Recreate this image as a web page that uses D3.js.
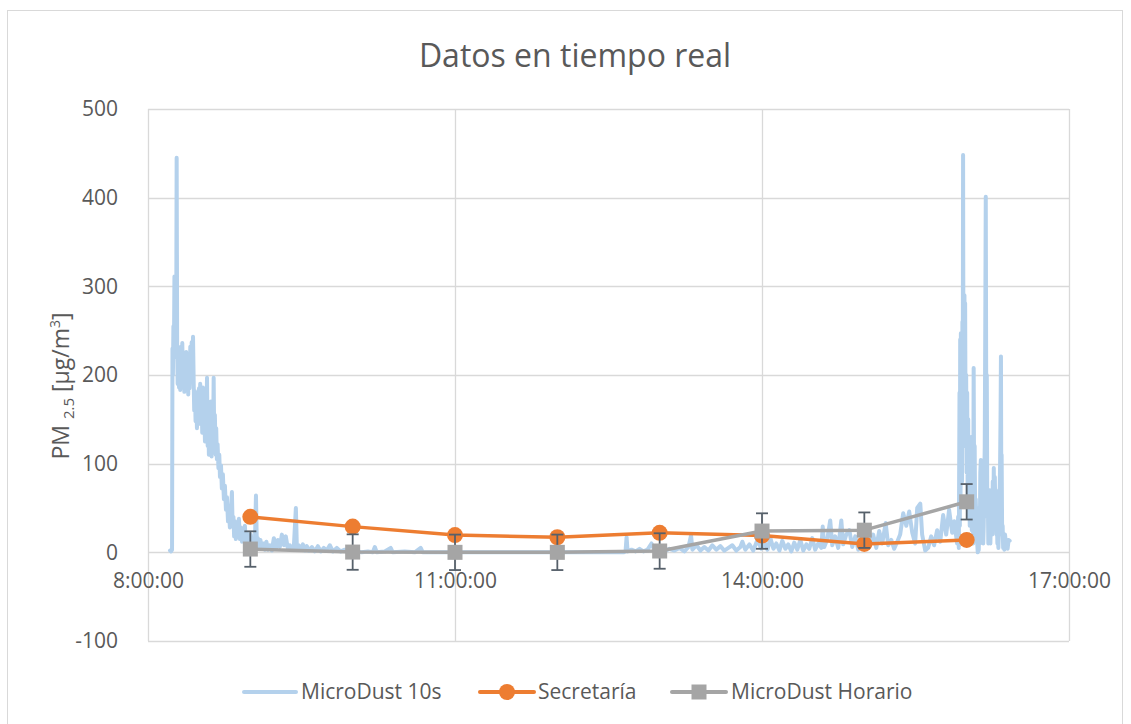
<!DOCTYPE html>
<html><head><meta charset="utf-8">
<script src="https://cdn.jsdelivr.net/npm/d3@7"></script>
<style>
body{margin:0;background:#fff;}
svg{display:block;font-family:"Open Sans",sans-serif;}
</style></head><body>
<svg id="c" width="1131" height="724"></svg>
<script>
// ---- data ----
const titleText = "Datos en tiempo real";
const xTickLabels = ["8:00:00", "11:00:00", "14:00:00", "17:00:00"];
const yTickValues = [-100, 0, 100, 200, 300, 400, 500];
const hourLabels = ["9:00:00", "10:00:00", "11:00:00", "12:00:00", "13:00:00", "14:00:00", "15:00:00", "16:00:00"];
const secretaria = [40, 29, 19.5, 17, 22, 19, 9.5, 14];
const horario = [3.7, 0.3, 0, 0, 1.5, 24, 25, 57];
const horarioErr = [20, 20, 20, 20, 20, 20, 20, 20];
// MicroDust 10s: [minutes after 8:00:00, PM2.5] pairs
const dustSeries = [
[12.9,2],[13.5,1],[14.1,3],[14.35,230],[14.6,200],[14.9,255],[15.2,225],[15.5,311],[15.8,230],[16.1,300],[16.5,220],[16.8,445],
[17.1,230],[17.4,190],[17.7,225],[18.2,186],[18.6,220],[18.9,183],[19.3,232],[19.7,188],[20.1,236],[20.5,192],[20.9,218],[21.3,181],
[21.7,215],[22.1,186],[22.4,226],[22.8,183],[23.3,205],[23.6,178],[24.0,220],[24.4,185],[24.8,232],[25.2,195],[25.6,237],[25.9,200],
[26.4,243],[26.8,190],[27.1,160],[27.5,182],[27.9,148],[28.3,178],[28.7,140],[29.1,172],[29.5,150],[29.9,185],[30.3,145],[30.6,190],
[31.0,150],[31.5,175],[31.8,135],[32.2,186],[32.6,142],[33.0,160],[33.4,125],[33.8,180],[34.1,140],[34.6,197],[35.0,120],[35.3,165],
[35.7,110],[36.1,150],[36.5,125],[36.9,170],[37.3,108],[37.7,145],[38.1,115],[38.5,197],[38.8,130],[39.2,155],[39.7,110],[40.0,140],
[40.4,105],[40.8,122],[41.3,95],[41.8,110],[42.2,85],[42.8,98],[43.3,72],[43.9,88],[44.5,60],[45.1,75],[45.7,48],[46.3,62],
[46.9,35],[47.4,50],[48.0,28],[48.6,45],[49.2,68],[49.6,30],[50.1,40],[50.5,18],[51.0,35],[51.5,15],[52.1,30],[52.7,20],
[53.3,38],[53.9,15],[54.5,28],[55.1,12],[55.6,25],[56.2,14],[56.8,30],[57.4,10],[58.0,22],[58.6,8],[59.2,18],[59.7,10],
[60.3,20],[60.9,6],[61.5,14],[62.1,8],[62.7,12],[63.3,64],[63.8,10],[64.4,16],[65.0,5],[65.9,14],[66.8,4],[67.7,10],
[68.5,3],[69.4,12],[70.3,3],[71.5,8],[72.6,2],[73.8,16],[75.0,4],[76.1,14],[77.3,6],[78.5,20],[79.7,8],[80.8,18],
[82.0,4],[83.2,8],[84.3,3],[85.5,6],[86.7,50],[87.3,4],[88.4,8],[89.6,3],[90.8,9],[92.0,2],[93.1,7],[94.3,2],
[96.1,6],[97.8,1],[99.6,7],[101.3,1],[103.1,5],[104.8,2],[106.6,8],[108.4,1],[110.7,5],[113.0,1],[115.4,3],[118.3,0],
[121.8,2],[125.3,0],[128.9,1],[131.8,0],[133.0,6],[134.1,0],[138.8,1],[142.3,5],[143.5,0],[150.5,1],[156.4,0],[159.9,5],
[161.1,0],[171.0,0],[182.7,0],[194.5,0],[206.2,0],[217.9,0],[229.6,0],[241.3,0],[253.0,0],[264.7,0],[276.5,0],[278.8,0],
[280.0,1],[280.6,17],[281.2,1],[283.5,3],[285.9,1],[288.2,4],[290.5,1],[292.9,3],[295.2,10],[297.0,2],[299.9,5],[302.8,1],
[305.7,4],[308.7,2],[311.6,5],[314.5,1],[316.9,6],[318.4,19],[319.2,3],[321.6,8],[323.9,2],[326.2,6],[328.6,2],[330.9,8],
[333.2,3],[335.6,7],[337.9,2],[340.3,5],[342.6,8],[344.9,2],[347.3,6],[348.5,12],[350.2,3],[352.6,9],[354.9,2],[357.3,14],
[359.6,4],[361.4,12],[363.2,3],[364.9,16],[366.7,4],[368.4,10],[370.2,2],[371.9,13],[373.7,4],[375.4,9],[377.2,1],[378.9,11],
[380.7,3],[382.5,14],[384.2,2],[386.0,9],[387.7,4],[389.5,16],[391.2,3],[393.0,10],[394.8,5],[395.6,29],[396.5,6],[398.3,15],
[400.0,36],[401.2,8],[402.9,18],[404.7,5],[406.5,36],[407.6,9],[409.4,20],[411.2,25],[412.9,6],[414.7,18],[416.4,3],[418.2,15],
[419.9,6],[421.7,22],[423.4,8],[425.2,20],[427.0,5],[428.7,24],[430.5,10],[432.5,33],[434.0,8],[435.8,14],[437.5,4],[439.3,12],
[441.0,20],[442.8,44],[444.6,30],[446.3,46],[448.1,22],[449.8,10],[451.0,50],[452.8,55],[453.9,20],[455.7,2],[457.4,5],[459.2,18],
[460.9,8],[462.7,25],[464.5,12],[466.2,42],[468.0,20],[469.7,48],[471.5,22],[472.7,35],[474.4,10],
[475.0,40],[475.4,5],[475.8,180],[476.0,30],[476.2,240],[476.4,60],[476.6,247],[476.8,100],[477.1,230],[477.3,80],[477.5,260],
[477.7,150],[477.9,448],[478.1,200],[478.3,260],[478.5,120],[478.7,290],[478.9,160],[479.1,281],[479.4,120],[479.7,200],[480.0,90],
[480.3,180],[480.6,60],[480.9,150],[481.2,40],[481.5,120],[481.8,30],[482.1,90],[482.4,40],[482.7,130],[483.0,25],[483.5,100],
[483.8,10],[484.1,208],[484.4,60],[484.7,120],[485.0,30],[485.3,60],[485.9,20],[486.5,0],
[487.1,3],[487.4,50],[487.7,10],[488.0,90],[488.3,104],[488.6,30],[488.8,100],[489.1,20],[489.4,60],[489.7,10],[490.0,30],
[490.3,80],[490.6,120],[490.9,250],[491.2,401],[491.5,150],[491.8,200],[492.1,40],[492.4,60],[492.7,10],[493.0,20],[493.3,70],
[493.6,51],[493.9,10],[494.1,30],[494.5,70],[495.0,20],[495.3,80],[495.6,40],[495.9,95],[496.2,30],[496.5,85],[496.8,50],
[497.1,70],[497.4,20],[497.7,40],[498.0,10],[498.3,20],[498.6,5],[499.0,30],[499.3,60],[499.6,100],[499.9,160],[500.1,221],
[500.3,80],[500.5,110],[500.8,20],[501.1,30],[501.4,5],[501.7,15],[502.1,3],[502.5,20],[503.1,8],[503.5,14],[504.0,4],
[504.6,14],[505.2,13]
];
const legendLabels = ["MicroDust 10s", "Secretaría", "MicroDust Horario"];

// ---- setup ----
const svg = d3.select("#c");
const parseT = d3.timeParse("%H:%M:%S");
const base = parseT("8:00:00");
const W = {l: 148, r: 1069, t: 109, b: 641};
const x = d3.scaleTime().domain([parseT("8:00:00"), parseT("17:00:00")]).range([W.l, W.r]);
const y = d3.scaleLinear().domain([-100, 500]).range([W.b, W.t]);
const textCol = "#595959", gridCol = "#d9d9d9";
const FONT = '"Open Sans",sans-serif';

// chart border
svg.append("rect").attr("x", 7.5).attr("y", 10.5).attr("width", 1115).attr("height", 730)
  .attr("fill", "#fff").attr("stroke", gridCol).attr("stroke-width", 1);

// title
svg.append("text").attr("x", 575).attr("y", 67).attr("text-anchor", "middle")
  .attr("font-size", 32).attr("fill", textCol).text(titleText);

// gridlines
const g = svg.append("g");
g.selectAll(".hg").data(yTickValues).join("line")
  .attr("x1", W.l).attr("x2", W.r)
  .attr("y1", d => Math.round(y(d)) + 0.5).attr("y2", d => Math.round(y(d)) + 0.5)
  .attr("stroke", gridCol).attr("stroke-width", 1.3);
g.selectAll(".vg").data(xTickLabels.map(parseT)).join("line")
  .attr("x1", d => Math.round(x(d)) + 0.5).attr("x2", d => Math.round(x(d)) + 0.5)
  .attr("y1", W.t).attr("y2", W.b)
  .attr("stroke", gridCol).attr("stroke-width", 1.3);

// axes labels
const yAxis = d3.axisLeft(y).tickValues(yTickValues).tickSize(0).tickPadding(30).tickFormat(d => String(d));
const ya = svg.append("g").attr("transform", `translate(${W.l},0)`).call(yAxis);
ya.select(".domain").remove();
ya.selectAll("text").attr("font-size", 21).attr("fill", textCol).attr("font-family", FONT);

const xAxis = d3.axisBottom(x).tickValues(xTickLabels.map(parseT)).tickSize(0).tickPadding(21)
  .tickFormat(d3.timeFormat("%-H:%M:%S"));
const xa = svg.append("g").attr("transform", `translate(0,${y(0)})`).call(xAxis);
xa.select(".domain").remove();
xa.selectAll("text").attr("font-size", 21).attr("fill", textCol).attr("font-family", FONT);

// y title
const yt = svg.append("text").attr("transform", "translate(69,386) rotate(-90)")
  .attr("text-anchor", "middle").attr("font-size", 23).attr("fill", textCol);
yt.append("tspan").text("PM ");
yt.append("tspan").attr("font-size", 15).attr("dy", 5).text("2.5");
yt.append("tspan").attr("dy", -5).text(" [µg/m");
yt.append("tspan").attr("font-size", 14).attr("dy", -9).text("3");
yt.append("tspan").attr("dy", 9).text("]");

// MicroDust 10s
const dust = dustSeries.map(([m, v]) => ({t: new Date(base.getTime() + m * 60000), v}));
const line = d3.line().x(d => x(d.t)).y(d => y(d.v));
svg.append("path").datum(dust).attr("d", line).attr("fill", "none")
  .attr("stroke", "#b4d1ec").attr("stroke-width", 4).attr("stroke-linejoin", "round").attr("stroke-linecap", "round");

// Secretaría
const sec = hourLabels.map((h, i) => ({t: parseT(h), v: secretaria[i]}));
svg.append("path").datum(sec).attr("d", line).attr("fill", "none")
  .attr("stroke", "#ed7d31").attr("stroke-width", 3.5).attr("stroke-linejoin", "round");
svg.selectAll(".sm").data(sec).join("circle")
  .attr("cx", d => x(d.t)).attr("cy", d => y(d.v)).attr("r", 8).attr("fill", "#ed7d31");

// MicroDust Horario
const hor = hourLabels.map((h, i) => ({t: parseT(h), v: horario[i], e: horarioErr[i]}));
const eb = svg.append("g").attr("stroke", "#56606a").attr("stroke-width", 1.8);
hor.forEach(d => {
  const cx = x(d.t);
  eb.append("line").attr("x1", cx).attr("x2", cx).attr("y1", y(d.v - d.e)).attr("y2", y(d.v + d.e));
  eb.append("line").attr("x1", cx - 6).attr("x2", cx + 6).attr("y1", y(d.v - d.e)).attr("y2", y(d.v - d.e));
  eb.append("line").attr("x1", cx - 6).attr("x2", cx + 6).attr("y1", y(d.v + d.e)).attr("y2", y(d.v + d.e));
});
svg.append("path").datum(hor).attr("d", line).attr("fill", "none")
  .attr("stroke", "#a5a5a5").attr("stroke-width", 3.5).attr("stroke-linejoin", "round");
svg.selectAll(".hm").data(hor).join("rect")
  .attr("x", d => x(d.t) - 7.5).attr("y", d => y(d.v) - 7.5).attr("width", 15).attr("height", 15).attr("fill", "#a5a5a5");

// legend
const ly = 692;
const leg = svg.append("g");
const items = [
  {x1: 244, x2: 296, tx: 301, col: "#b4d1ec", m: null},
  {x1: 480, x2: 534, tx: 538, col: "#ed7d31", m: "c"},
  {x1: 672, x2: 726, tx: 731, col: "#a5a5a5", m: "s"}
];
items.forEach((it, i) => {
  leg.append("line").attr("x1", it.x1).attr("x2", it.x2).attr("y1", ly).attr("y2", ly)
    .attr("stroke", it.col).attr("stroke-width", 4).attr("stroke-linecap", "round");
  const cx = (it.x1 + it.x2) / 2;
  if (it.m === "c") leg.append("circle").attr("cx", cx).attr("cy", ly).attr("r", 8).attr("fill", it.col);
  if (it.m === "s") leg.append("rect").attr("x", cx - 7.5).attr("y", ly - 7.5).attr("width", 15).attr("height", 15).attr("fill", it.col);
  leg.append("text").attr("x", it.tx).attr("y", ly + 7).attr("font-size", 21).attr("fill", textCol).text(legendLabels[i]);
});
</script>
</body></html>
